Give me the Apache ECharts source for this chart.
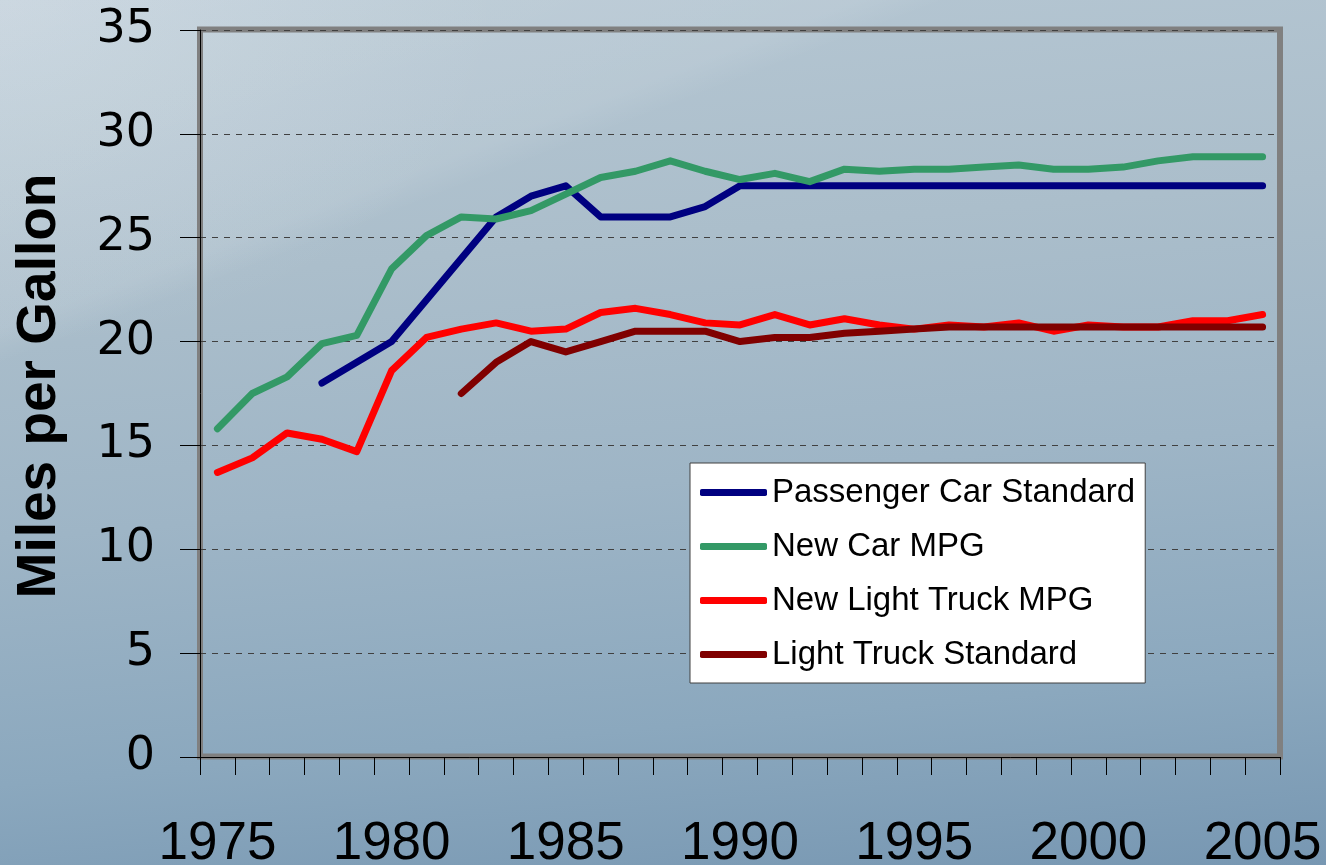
<!DOCTYPE html>
<html>
<head>
<meta charset="utf-8">
<script src="https://cdn.jsdelivr.net/npm/echarts@6/dist/echarts.min.js"></script>
<style>
html,body{margin:0;padding:0;width:1326px;height:865px;overflow:hidden;}
body{
  background:
    linear-gradient(159deg, rgba(255,255,255,0.16) 0%, rgba(255,255,255,0.09) 24%, rgba(255,255,255,0) 26.5%),
    radial-gradient(ellipse 500px 350px at 0px 0px, rgba(230,237,242,0.25) 0%, rgba(230,237,242,0) 100%),
    linear-gradient(175deg, #b6c7d3 0%, #abbecb 30%, #9eb5c6 55%, #8ba8be 80%, #7797b2 100%);
}
#chart{width:1326px;height:865px;}
</style>
</head>
<body>
<div id="chart"></div>
<script>
var years = ['1975','1976','1977','1978','1979','1980','1981','1982','1983','1984','1985','1986','1987','1988','1989','1990','1991','1992','1993','1994','1995','1996','1997','1998','1999','2000','2001','2002','2003','2004','2005'];
var passengerCarStandard = [null,null,null,18.0,19.0,20.0,22.0,24.0,26.0,27.0,27.5,26.0,26.0,26.0,26.5,27.5,27.5,27.5,27.5,27.5,27.5,27.5,27.5,27.5,27.5,27.5,27.5,27.5,27.5,27.5,27.5];
var newCarMPG = [15.8,17.5,18.3,19.9,20.3,23.5,25.1,26.0,25.9,26.3,27.1,27.9,28.2,28.7,28.2,27.8,28.1,27.7,28.3,28.2,28.3,28.3,28.4,28.5,28.3,28.3,28.4,28.7,28.9,28.9,28.9];
var newLightTruckMPG = [13.7,14.4,15.6,15.3,14.7,18.6,20.2,20.6,20.9,20.5,20.6,21.4,21.6,21.3,20.9,20.8,21.3,20.8,21.1,20.8,20.6,20.8,20.7,20.9,20.5,20.8,20.7,20.7,21.0,21.0,21.3];
var lightTruckStandard = [null,null,null,null,null,null,null,17.5,19.0,20.0,19.5,20.0,20.5,20.5,20.5,20.0,20.2,20.2,20.4,20.5,20.6,20.7,20.7,20.7,20.7,20.7,20.7,20.7,20.7,20.7,20.7];
var yTicks = [0,5,10,15,20,25,30,35];

var G = {left:200, top:30, right:46, bottom:108};
var W = 1326, H = 865;

var chart = echarts.init(document.getElementById('chart'), null, {renderer:'canvas'});
function mk(name, data, color){
  return {
    name:name, type:'line', data:data, showSymbol:false, symbol:'none',
    connectNulls:false, animation:false,
    lineStyle:{color:color, width:7, cap:'round', join:'round'},
    itemStyle:{color:color}
  };
}
chart.setOption({
  backgroundColor:'transparent',
  animation:false,
  grid:{left:G.left, right:G.right, top:G.top, bottom:G.bottom, show:false, containLabel:false, outerBoundsMode:'none'},
  legend:{
    orient:'vertical', left:690, top:463,
    backgroundColor:'#ffffff', borderColor:'#404040', borderWidth:1,
    padding:[13,10,12,10], itemGap:21, itemWidth:67, itemHeight:7, itemTextGap:6,
    icon:'roundRect',
    textStyle:{fontFamily:'Liberation Sans, Arial, sans-serif', fontSize:33, lineHeight:33, color:'#000'},
    data:['Passenger Car Standard','New Car MPG','New Light Truck MPG','Light Truck Standard']
  },
  graphic:[
    {
      type:'rect', z:0, silent:true,
      shape:{x:G.left, y:G.top - 0.5, width:W - G.left - G.right, height:H - G.top - G.bottom},
      style:{fill:'none', stroke:'#808080', lineWidth:6}
    },
    {
      type:'text', z:10,
      x:40, y:386,
      rotation:Math.PI/2,
      style:{text:'Miles per Gallon', font:'bold 55px "Liberation Sans", Arial, sans-serif', fill:'#000', align:'center', verticalAlign:'middle'}
    }
  ],
  xAxis:{
    type:'category', data:years, boundaryGap:true,
    axisLine:{show:true, lineStyle:{color:'#000', width:1}},
    axisTick:{show:true, interval:0, length:18, lineStyle:{color:'#000', width:1}},
    axisLabel:{interval:4, fontFamily:'Liberation Sans, Arial, sans-serif', fontSize:53, color:'#000', margin:61},
    splitLine:{show:false}
  },
  yAxis:{
    type:'value', min:yTicks[0], max:yTicks[yTicks.length-1], interval:5,
    axisLine:{show:true, lineStyle:{color:'#000', width:1}},
    axisTick:{show:true, length:20, lineStyle:{color:'#000', width:1}},
    axisLabel:{fontFamily:'DejaVu Sans, sans-serif', fontSize:46, color:'#000', margin:45},
    splitLine:{show:true, lineStyle:{color:'#404040', width:1, type:[6,6]}}
  },
  series:[
    mk('Passenger Car Standard', passengerCarStandard, '#000080'),
    mk('New Car MPG', newCarMPG, '#339966'),
    mk('New Light Truck MPG', newLightTruckMPG, '#ff0000'),
    mk('Light Truck Standard', lightTruckStandard, '#800000')
  ]
});
</script>
</body>
</html>
